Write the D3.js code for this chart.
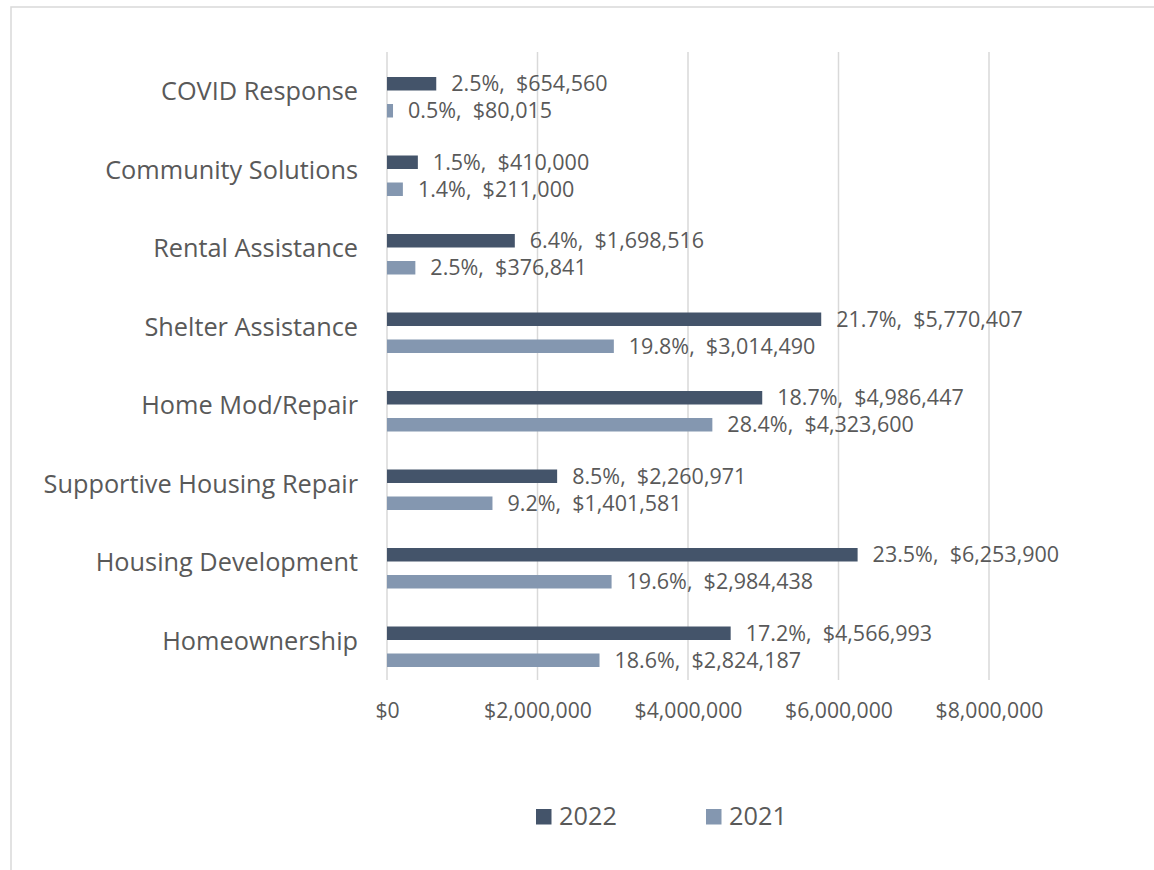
<!DOCTYPE html>
<html>
<head>
<meta charset="utf-8">
<script src="https://cdn.jsdelivr.net/npm/d3@7"></script>
<style>
  html, body { margin: 0; padding: 0; background: #fff; }
  svg { display: block; font-family: "Open Sans", "Noto Sans", sans-serif; }
  text { white-space: pre; }
</style>
</head>
<body>
<svg id="chart" width="1154" height="870"></svg>
<script>
const categories = ["COVID Response", "Community Solutions", "Rental Assistance", "Shelter Assistance",
  "Home Mod/Repair", "Supportive Housing Repair", "Housing Development", "Homeownership"];
const seriesNames = ["2022", "2021"];
const values2022 = [654560, 410000, 1698516, 5770407, 4986447, 2260971, 6253900, 4566993];
const pct2022 = [2.5, 1.5, 6.4, 21.7, 18.7, 8.5, 23.5, 17.2];
const values2021 = [80015, 211000, 376841, 3014490, 4323600, 1401581, 2984438, 2824187];
const pct2021 = [0.5, 1.4, 2.5, 19.8, 28.4, 9.2, 19.6, 18.6];
const xTicks = [0, 2000000, 4000000, 6000000, 8000000];

const colors = { "2022": "#44546A", "2021": "#8497B0" };
const textColor = "#595959";
const gridColor = "#D9D9D9";

const svg = d3.select("#chart");

// outer chart frame
svg.append("rect")
  .attr("x", 11).attr("y", 7)
  .attr("width", 1170).attr("height", 900)
  .attr("fill", "none").attr("stroke", gridColor).attr("stroke-width", 1.5);

const x = d3.scaleLinear().domain([0, 8000000]).range([387, 989]);
const y = d3.scaleBand().domain(categories).range([52, 680]);
const ySub = d3.scaleBand().domain(seriesNames).range([25, 65.5]).paddingInner(0.5);

// gridlines
svg.append("g").selectAll("line").data(xTicks).join("line")
  .attr("x1", d => x(d)).attr("x2", d => x(d))
  .attr("y1", 52).attr("y2", 680)
  .attr("stroke", gridColor).attr("stroke-width", 1.5);

// x axis labels
const xAxis = d3.axisBottom(x).tickValues(xTicks)
  .tickFormat(d => "$" + d3.format(",")(d)).tickSize(0).tickPadding(0);
const gx = svg.append("g").attr("transform", "translate(0,718)").call(xAxis);
gx.select(".domain").remove();
gx.selectAll("text")
  .attr("y", 0).attr("dy", 0)
  .attr("fill", textColor)
  .style("font-size", "21.2px")
  .style("font-family", "'Open Sans', sans-serif");

// category labels
const yAxis = d3.axisLeft(y).tickSize(0).tickPadding(0);
const gy = svg.append("g").attr("transform", "translate(358,0)").call(yAxis);
gy.select(".domain").remove();
gy.selectAll("text")
  .attr("x", 0).attr("dy", "0.36em")
  .attr("fill", textColor)
  .style("font-size", "25.3px")
  .style("font-family", "'Open Sans', sans-serif");

// build rows
const rows = [];
categories.forEach((c, i) => {
  rows.push({ cat: c, s: "2022", v: values2022[i], p: pct2022[i] });
  rows.push({ cat: c, s: "2021", v: values2021[i], p: pct2021[i] });
});

svg.append("g").selectAll("rect").data(rows).join("rect")
  .attr("x", x(0))
  .attr("y", d => y(d.cat) + ySub(d.s))
  .attr("width", d => x(d.v) - x(0))
  .attr("height", ySub.bandwidth())
  .attr("fill", d => colors[d.s]);

svg.append("g").selectAll("text").data(rows).join("text")
  .attr("x", d => x(d.v) + 15)
  .attr("y", d => y(d.cat) + ySub(d.s) + ySub.bandwidth() / 2)
  .attr("dy", "0.36em")
  .attr("fill", textColor)
  .style("font-size", "21.5px")
  .text(d => d.p.toFixed(1) + "%,  $" + d3.format(",")(d.v));

// legend
const legendX = { "2022": 536, "2021": 706 };
const lg = svg.append("g");
seriesNames.forEach(s => {
  lg.append("rect").attr("x", legendX[s]).attr("y", 809)
    .attr("width", 15.5).attr("height", 15.5).attr("fill", colors[s]);
  lg.append("text").attr("x", legendX[s] + 23).attr("y", 825)
    .attr("fill", textColor).style("font-size", "25.3px").text(s);
});
</script>
</body>
</html>
